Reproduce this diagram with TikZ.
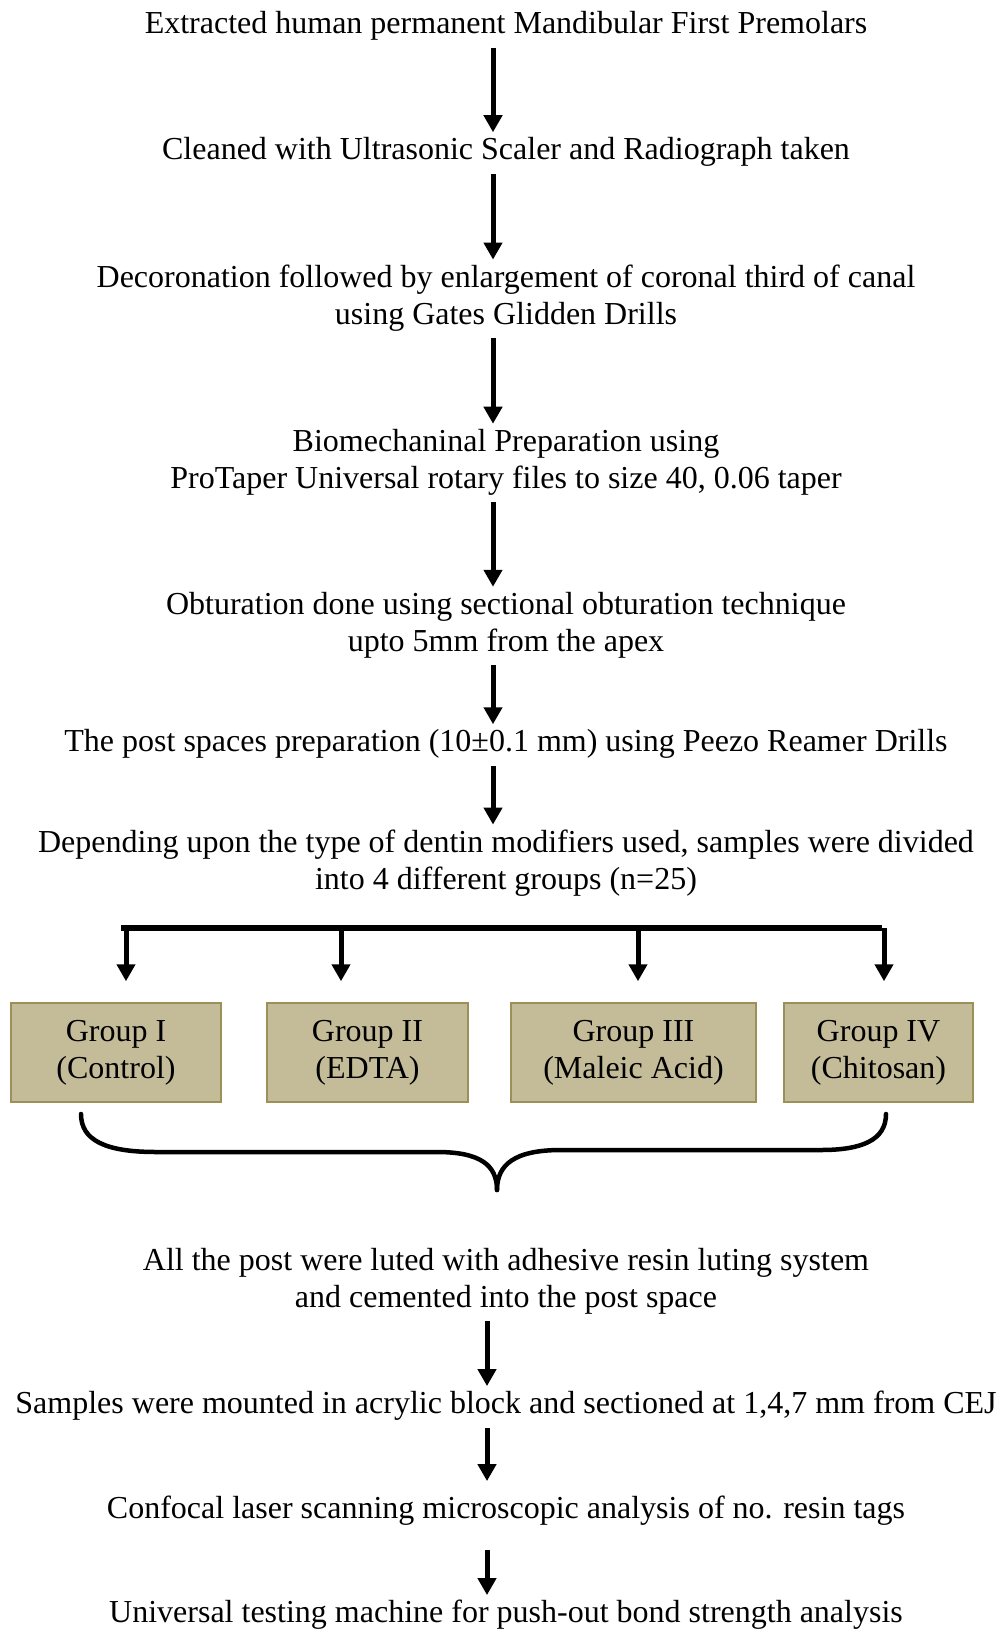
\documentclass[tikz,border=0pt]{standalone}
\usepackage{fontspec}
\setmainfont{Liberation Serif}
\usetikzlibrary{arrows.meta}
\definecolor{boxfill}{HTML}{C4BC98}
\definecolor{boxline}{HTML}{9B9058}
\begin{document}
\begin{tikzpicture}[x=1pt,y=-1pt,
  txt/.style={font=\fontsize{32}{37}\selectfont, align=center, inner sep=0pt},
  arr/.style={line width=5pt, -{Triangle[length=17pt,width=18pt]}, shorten <=7pt, shorten >=5pt},
  grp/.style={draw=boxline, fill=boxfill, line width=1.5pt, minimum height=99pt,
    font=\fontsize{32}{37}\selectfont, align=center, inner sep=0pt},
  barline/.style={line width=6pt},
  brace/.style={line width=4.5pt, line cap=round}
]
\useasboundingbox (0,0) rectangle (1002,1629);
\coordinate (ax) at (493,0);
\coordinate (ay) at (487,0);

\node[txt] (t1) at (506,26) {Extracted human permanent Mandibular First Premolars};
\node[txt] (t2) at (506,152) {Cleaned with Ultrasonic Scaler and Radiograph taken};
\node[txt] (t3) at (506,298) {Decoronation followed by enlargement of coronal third of canal\\using Gates Glidden Drills};
\node[txt] (t4) at (506,462) {Biomechaninal Preparation using\\ProTaper Universal rotary files to size 40, 0.06 taper};
\node[txt] (t5) at (506,625) {Obturation done using sectional obturation technique\\upto 5mm from the apex};
\node[txt] (t6) at (506,744) {The post spaces preparation (10±0.1 mm) using Peezo Reamer Drills};
\node[txt] (t7) at (506,863) {Depending upon the type of dentin modifiers used, samples were divided\\into 4 different groups (n=25)};

\draw[arr] (t1.south -| ax) -- (t2.north -| ax);
\draw[arr] (t2.south -| ax) -- (t3.north -| ax);
\draw[arr] (t3.south -| ax) -- (t4.north -| ax);
\draw[arr] (t4.south -| ax) -- (t5.north -| ax);
\draw[arr] (t5.south -| ax) -- (t6.north -| ax);
\draw[arr] (t6.south -| ax) -- (t7.north -| ax);

\node[grp, minimum width=210pt] (b1) at (116,1052.5) {Group I\\(Control)};
\node[grp, minimum width=201pt] (b2) at (367.5,1052.5) {Group II\\(EDTA)};
\node[grp, minimum width=245pt] (b3) at (633.5,1052.5) {Group III\\(Maleic Acid)};
\node[grp, minimum width=189pt] (b4) at (878.5,1052.5) {Group IV\\(Chitosan)};

\coordinate (bl) at (121,928);
\coordinate (br) at (882,928);
\draw[barline] (bl) -- (br);
\coordinate (j1) at (126,928);
\coordinate (j2) at (341,928);
\coordinate (j3) at (638,928);
\coordinate (j4) at (884,928);
\draw[arr, shorten <=0pt, shorten >=21pt] (j1) -- (j1 |- b1.north);
\draw[arr, shorten <=0pt, shorten >=21pt] (j2) -- (j2 |- b2.north);
\draw[arr, shorten <=0pt, shorten >=21pt] (j3) -- (j3 |- b3.north);
\draw[arr, shorten <=0pt, shorten >=21pt] (j4) -- (j4 |- b4.north);

\draw[brace] (81,1114) .. controls (81,1140) and (105,1152) .. (156,1152) -- (437,1152)
  .. controls (480,1152) and (497,1165) .. (497,1190);
\draw[brace] (886,1114) .. controls (886,1140) and (862,1150) .. (821,1150) -- (561,1150)
  .. controls (514,1150) and (497,1165) .. (497,1190);

\node[txt] (t8) at (506,1281) {All the post were luted with adhesive resin luting system\\and cemented into the post space};
\node[txt] (t9) at (506,1406) {Samples were mounted in acrylic block and sectioned at 1,4,7 mm from CEJ};
\node[txt] (t10) at (506,1511) {Confocal laser scanning microscopic analysis of no. resin tags};
\node[txt] (t11) at (506,1615) {Universal testing machine for push-out bond strength analysis};

\draw[arr] (t8.south -| ay) -- (t9.north -| ay);
\draw[arr, shorten >=15pt] (t9.south -| ay) -- (t10.north -| ay);
\draw[arr, shorten <=24pt] (t10.south -| ay) -- (t11.north -| ay);
\end{tikzpicture}
\end{document}
